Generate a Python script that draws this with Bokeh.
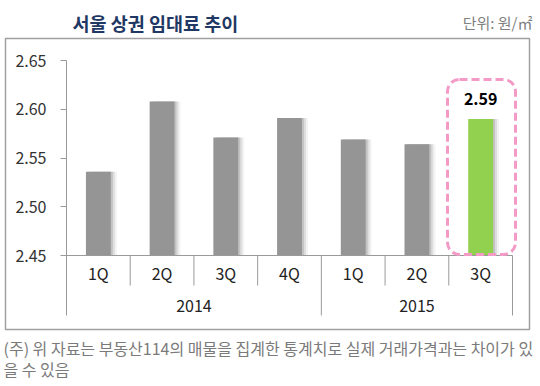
from bokeh.plotting import figure
from bokeh.models import (Range1d, FixedTicker, PrintfTickFormatter, LinearAxis,
                          ColumnDataSource, Label, BoxAnnotation)
from bokeh.transform import dodge
from bokeh.core.properties import value
from bokeh.embed import file_html
from bokeh.resources import INLINE

# ---- data ----
YEARS = ["2014", "2014", "2014", "2014", "2015", "2015", "2015"]
QUARTERS = ["1Q", "2Q", "3Q", "4Q", "1Q", "2Q", "3Q"]
VALUES = [2.536, 2.608, 2.571, 2.591, 2.569, 2.564, 2.59]
GROUPS = ["2014", "2015"]
Y_TICKS = [2.45, 2.50, 2.55, 2.60, 2.65]
TITLE = "서울 상권 임대료 추이"
UNIT = "단위: 원/㎡"
NOTE_1 = "(주) 위 자료는 부동산114의 매물을 집계한 통계치로 실제 거래가격과는 차이가 있"
NOTE_2 = "을 수 있음"

FONT = "Noto Sans CJK KR"
GRAY_BAR = "#959595"
GREEN_BAR = "#92d050"
LINE = "#9a9a9a"

W, H = 540, 386
n = len(VALUES)
# layout in pixels
PLOT_L, PLOT_R = 66, 512          # category area
Y_TOP_PX, Y_BASE_PX = 60, 255      # 2.65 and 2.45
TABLE_PX = 60                      # height of category table
cat_px = (PLOT_R - PLOT_L) / n
y_min, y_max = Y_TICKS[0], Y_TICKS[-1]
ppu = (Y_BASE_PX - Y_TOP_PX) / (y_max - y_min)
y_table = y_min - TABLE_PX / ppu
y_row = (y_min + y_table) / 2

x_range = Range1d(-PLOT_L / cat_px, n + (W - PLOT_R) / cat_px)
y_range = Range1d(y_min - (H - Y_BASE_PX) / ppu, y_max + Y_TOP_PX / ppu)

xs = [i + 0.5 for i in range(n)]
colors = [GRAY_BAR] * (n - 1) + [GREEN_BAR]
src = ColumnDataSource(dict(x=xs, top=VALUES, color=colors, q=QUARTERS))

p = figure(x_range=x_range, y_range=y_range, width=W, height=H,
           output_backend="svg", toolbar_location=None,
           x_axis_location=None, y_axis_location=None,
           min_border=0, min_border_left=0, min_border_right=0,
           min_border_top=0, min_border_bottom=0)
p.title.visible = False
p.outline_line_color = None
p.xgrid.grid_line_color = None
p.ygrid.grid_line_color = None
p.background_fill_color = "white"
p.border_fill_color = "white"

# y axis inside the frame at the left edge of the category area
ax = LinearAxis(fixed_location=0, bounds=(y_table, y_max))
ax.ticker = FixedTicker(ticks=Y_TICKS)
ax.formatter = PrintfTickFormatter(format="%.2f")
ax.axis_line_color = LINE
ax.major_tick_line_color = LINE
ax.major_tick_out = 6
ax.major_tick_in = 0
ax.minor_tick_line_color = None
ax.major_label_text_font = FONT
ax.major_label_text_font_size = "16px"
ax.major_label_text_color = "#333333"
ax.major_label_standoff = 14
p.add_layout(ax, "left")

# bar shadows
for off_px, a in [(6, 0.12), (4, 0.25), (2, 0.45)]:
    p.vbar(x=dodge("x", off_px / cat_px), top="top", bottom=y_min,
           width=0.39, source=src, fill_color="#a0a0a0", fill_alpha=a,
           line_color=None)
# bars
p.vbar(x="x", top="top", bottom=y_min, width=0.39, source=src,
       fill_color="color", line_color=None)

# baseline
p.segment(x0=[0], y0=[y_min], x1=[n], y1=[y_min], line_color=LINE,
          line_width=1)

# table separators
sx, sy1 = [], []
for i in range(1, n):
    sx.append(i)
    sy1.append(y_table if YEARS[i] != YEARS[i - 1] else y_row)
sx.append(n)
sy1.append(y_table)
p.segment(x0=sx, y0=[y_min] * len(sx), x1=sx, y1=sy1, line_color=LINE,
          line_width=1)

# quarter labels
p.text(x="x", y=y_min, text="q", source=src, y_offset=17,
       text_align="center", text_baseline="middle",
       text_font=value(FONT), text_font_size="16px", text_color="#222222")
# year labels
gx = [sum(xs[i] for i in range(n) if YEARS[i] == g) /
      sum(1 for y in YEARS if y == g) for g in GROUPS]
p.text(x=gx, y=[y_min] * len(GROUPS), text=GROUPS, y_offset=50,
       text_align="center", text_baseline="middle",
       text_font=value(FONT), text_font_size="16px", text_color="#222222")

# value label for latest bar
p.text(x=[xs[-1]], y=[VALUES[-1]], text=["%.2f" % VALUES[-1]], y_offset=-20,
       text_align="center", text_baseline="middle",
       text_font=value(FONT), text_font_size="16px", text_font_style="bold",
       text_color="black")

def box(l, r, t, b, **kw):
    # pixel box measured from the canvas top-left
    return BoxAnnotation(left=l, right=r, top=H - t, bottom=H - b,
                         left_units="screen", right_units="screen",
                         top_units="screen", bottom_units="screen",
                         fill_color=None, fill_alpha=0, line_alpha=1, **kw)

# highlight box
p.add_layout(box(447, 515, 79, 254, line_color="#f39ac7", line_width=3,
                 line_dash="8 4", border_radius=12))
# outer box
p.add_layout(box(5, 529, 38, 329, line_color="#a0a0a0", line_width=1.5))

# title, unit, note
def label(x, y, text, **kw):
    return Label(x=x, y=H - y, x_units="screen", y_units="screen", text=text,
                 text_font=FONT, text_baseline="middle", **kw)

p.add_layout(label(72, 22, TITLE, text_font_size="18.5px",
                   text_font_style="bold", text_color="#1f3864"))
p.add_layout(label(532, 22, UNIT, text_font_size="15px",
                   text_color="#808080", text_align="right"))
p.add_layout(label(3, 347, NOTE_1, text_font_size="16px",
                   text_color="#7a7a7a"))
p.add_layout(label(3, 368, NOTE_2, text_font_size="16px",
                   text_color="#7a7a7a"))

open("out.html", "w").write(file_html(p, INLINE))
